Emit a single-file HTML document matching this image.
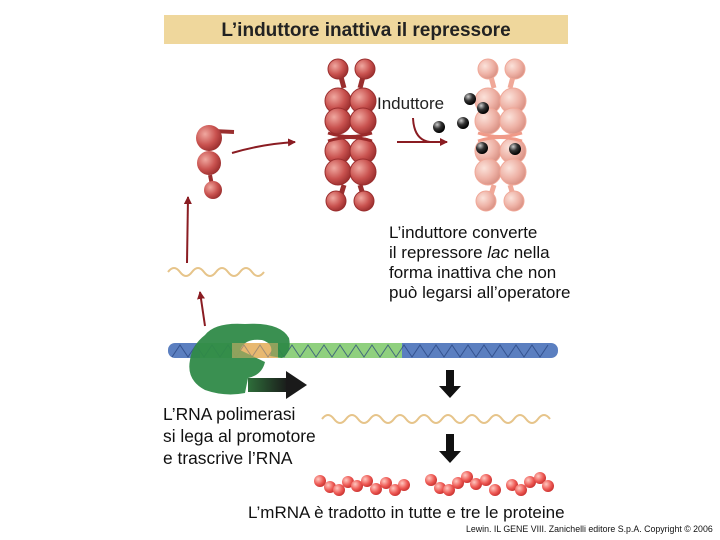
<!DOCTYPE html>
<html><head><meta charset="utf-8"><style>
body{margin:0;width:720px;height:540px;background:#fff;overflow:hidden}
svg{display:block}
text{font-family:"Liberation Sans",sans-serif}
</style></head><body>
<svg width="720" height="540" viewBox="0 0 720 540" xmlns="http://www.w3.org/2000/svg">
<defs>
<radialGradient id="rd" cx="0.35" cy="0.35" r="0.7"><stop offset="0" stop-color="#f0a8a0"/><stop offset="0.6" stop-color="#c9524f"/><stop offset="1" stop-color="#9a2e2e"/></radialGradient>
<radialGradient id="rl" cx="0.35" cy="0.35" r="0.7"><stop offset="0" stop-color="#fbe2da"/><stop offset="0.6" stop-color="#eeb2a6"/><stop offset="1" stop-color="#d88f82"/></radialGradient>
<radialGradient id="bk" cx="0.35" cy="0.3" r="0.7"><stop offset="0" stop-color="#ccc"/><stop offset="0.5" stop-color="#333"/><stop offset="1" stop-color="#000"/></radialGradient>
<radialGradient id="pr" cx="0.35" cy="0.35" r="0.7"><stop offset="0" stop-color="#ffc8c0"/><stop offset="0.6" stop-color="#ee5a55"/><stop offset="1" stop-color="#c8302e"/></radialGradient>
<linearGradient id="ar" x1="0" x2="1"><stop offset="0" stop-color="#2e6e3a"/><stop offset="1" stop-color="#1a1a1a"/></linearGradient>
<marker id="mh" markerWidth="8" markerHeight="8" refX="7" refY="4" orient="auto" markerUnits="userSpaceOnUse"><path d="M0,0 L8,4 L0,8 z" fill="#8a1c22"/></marker>
<g id="tet">
<path d="M-10,-28 L-6,-13 M14,-28 L10,-13 M-6,84 L-10,97 M10,84 L14,97" stroke-width="5" fill="none"/>
<circle cx="-12" cy="0" r="13"/><circle cx="13" cy="0" r="13"/>
<circle cx="-12" cy="20" r="13"/><circle cx="13" cy="20" r="13"/>
<circle cx="-12" cy="50" r="13"/><circle cx="13" cy="50" r="13"/>
<circle cx="-12" cy="71" r="13"/><circle cx="13" cy="71" r="13"/>
<circle cx="-12" cy="-32" r="10"/><circle cx="15" cy="-32" r="10"/>
<circle cx="-14" cy="100" r="10"/><circle cx="14" cy="100" r="10"/>
</g>
</defs>
<rect x="164" y="15" width="404" height="29" fill="#efd79c"/>
<text x="366" y="36" font-size="19" font-weight="bold" text-anchor="middle" fill="#222">L’induttore inattiva il repressore</text>

<!-- monomer -->
<path d="M213,131 L234,132" stroke="#9a2e2e" stroke-width="4"/>
<path d="M210,175 L213,190" stroke="#9a2e2e" stroke-width="4"/>
<circle cx="209" cy="138" r="13" fill="url(#rd)"/>
<circle cx="209" cy="163" r="12" fill="url(#rd)"/>
<circle cx="213" cy="190" r="9" fill="url(#rd)"/>
<path d="M232,153 Q262,144 295,142" stroke="#8a1c22" stroke-width="2" fill="none" marker-end="url(#mh)"/>

<g transform="translate(350,101)" fill="url(#rd)" stroke="#9a2e2e"><use href="#tet"/></g>
<path d="M328,133 Q350,140 372,133 M328,141 Q350,134 372,141" stroke="#9a2a2a" stroke-width="3" fill="none"/>
<g transform="translate(500,101)" fill="url(#rl)" stroke="#f0a898"><use href="#tet"/></g>
<path d="M478,133 Q500,140 522,133 M478,141 Q500,134 522,141" stroke="#f09a88" stroke-width="3" fill="none"/>

<text x="377" y="109" font-size="17" fill="#222">Induttore</text>
<path d="M413,118 Q414,140 430,142" stroke="#8a1c22" stroke-width="2" fill="none"/>
<path d="M397,142 L447,142" stroke="#8a1c22" stroke-width="2" fill="none" marker-end="url(#mh)"/>
<g fill="url(#bk)"><circle cx="470" cy="99" r="6"/><circle cx="483" cy="108" r="6"/><circle cx="439" cy="127" r="6"/><circle cx="463" cy="123" r="6"/><circle cx="482" cy="148" r="6"/><circle cx="515" cy="149" r="6"/></g>

<text font-size="17" fill="#111"><tspan x="389" y="238">L’induttore converte</tspan><tspan x="389" y="258">il repressore <tspan font-style="italic">lac</tspan> nella</tspan><tspan x="389" y="278">forma inattiva che non</tspan><tspan x="389" y="298">può legarsi all’operatore</tspan></text>

<path d="M187,263 L188,197" stroke="#8a1c22" stroke-width="2" marker-end="url(#mh)"/>
<path d="M168,272 q6,-8 12,0 t12,0 t12,0 t12,0 t12,0 t12,0 t12,0 t12,0" stroke="#e6c48a" stroke-width="2" fill="none"/>
<path d="M205,326 L200,292" stroke="#8a1c22" stroke-width="2" marker-end="url(#mh)"/>

<rect x="168" y="343" width="390" height="15" rx="7" fill="#5b7fc0"/>
<rect x="200" y="343" width="202" height="15" fill="#8fd07e"/>
<rect x="232" y="343" width="46" height="15" fill="#e8b870"/>
<path d="M172,357 l8,-12 l8,12 l8,-12 l8,12 l8,-12 l8,12 l8,-12 l8,12 l8,-12 l8,12 l8,-12 l8,12 l8,-12 l8,12 l8,-12 l8,12 l8,-12 l8,12 l8,-12 l8,12 l8,-12 l8,12 l8,-12 l8,12 l8,-12 l8,12 l8,-12 l8,12 l8,-12 l8,12 l8,-12 l8,12 l8,-12 l8,12 l8,-12 l8,12 l8,-12 l8,12 l8,-12 l8,12 l8,-12 l8,12 l8,-12 l8,12 l8,-12 l8,12 l8,-12" stroke="#24407a" stroke-width="1" fill="none" opacity="0.7"/>
<path d="M205,335 Q215,322 245,324 Q280,322 289,338 Q292,352 282,358 L270,356 Q275,344 262,340 Q245,338 240,350 L265,362 Q262,375 248,378 L245,393 Q225,397 205,390 Q186,380 190,360 Q192,345 205,335 z" fill="#2f8a48" opacity="0.95"/>
<rect x="232" y="343" width="46" height="15" fill="#e8b870" opacity="0.5"/>
<rect x="248" y="378" width="40" height="14" fill="url(#ar)"/>
<path d="M286,371 L307,385 L286,399 z" fill="#1a1a1a"/>

<path d="M446,370 h8 v16 h7 l-11,12 l-11,-12 h7 z" fill="#111"/>
<path d="M446,434 h8 v17 h7 l-11,12 l-11,-12 h7 z" fill="#111"/>
<path d="M322,419 q6,-8 12,0 t12,0 t12,0 t12,0 t12,0 t12,0 t12,0 t12,0 t12,0 t12,0 t12,0 t12,0 t12,0 t12,0 t12,0 t12,0 t12,0 t12,0 t12,0" stroke="#e6c48a" stroke-width="2" fill="none"/>

<g fill="url(#pr)">
<circle cx="320" cy="481" r="6"/><circle cx="330" cy="487" r="6"/><circle cx="339" cy="490" r="6"/><circle cx="348" cy="482" r="6"/><circle cx="357" cy="486" r="6"/><circle cx="367" cy="481" r="6"/><circle cx="376" cy="489" r="6"/><circle cx="386" cy="483" r="6"/><circle cx="395" cy="490" r="6"/><circle cx="404" cy="485" r="6"/>
<circle cx="431" cy="480" r="6"/><circle cx="440" cy="488" r="6"/><circle cx="449" cy="490" r="6"/><circle cx="458" cy="483" r="6"/><circle cx="467" cy="477" r="6"/><circle cx="476" cy="484" r="6"/><circle cx="486" cy="480" r="6"/><circle cx="495" cy="490" r="6"/>
<circle cx="512" cy="485" r="6"/><circle cx="521" cy="490" r="6"/><circle cx="530" cy="482" r="6"/><circle cx="540" cy="478" r="6"/><circle cx="548" cy="486" r="6"/>
</g>

<text font-size="17.4" fill="#111"><tspan x="163" y="420">L’RNA polimerasi</tspan><tspan x="163" y="442">si lega al promotore</tspan><tspan x="163" y="464">e trascrive l’RNA</tspan></text>
<text x="248" y="518" font-size="17" fill="#111">L’mRNA è tradotto in tutte e tre le proteine</text>
<text x="466" y="532" font-size="8.8" fill="#111">Lewin. IL GENE VIII.  Zanichelli editore S.p.A.  Copyright © 2006</text>
</svg>
</body></html>
